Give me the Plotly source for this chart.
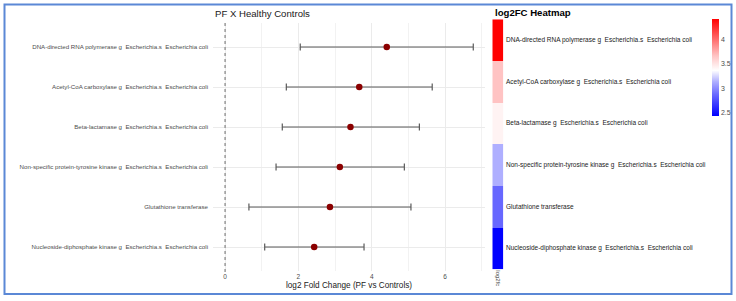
import plotly.graph_objects as go

W, H = 736, 301

labels = [
    "DNA-directed RNA polymerase g  Escherichia.s  Escherichia coli",
    "Acetyl-CoA carboxylase g  Escherichia.s  Escherichia coli",
    "Beta-lactamase g  Escherichia.s  Escherichia coli",
    "Non-specific protein-tyrosine kinase g  Escherichia.s  Escherichia coli",
    "Glutathione transferase",
    "Nucleoside-diphosphate kinase g  Escherichia.s  Escherichia coli",
]
log2fc = [4.41, 3.66, 3.42, 3.13, 2.86, 2.43]
ci_low = [2.05, 1.67, 1.56, 1.39, 0.65, 1.08]
ci_high = [6.77, 5.65, 5.30, 4.89, 5.07, 3.79]
x_ticks = [0, 2, 4, 6]
cbar_ticks = [2.5, 3, 3.5, 4]

FONT = "Liberation Sans, Arial, sans-serif"

def px_x(p):
    return p / W

def px_y(p):
    return 1 - p / H

fig = go.Figure()

# forest plot
fig.add_trace(go.Scatter(
    x=log2fc, y=labels, mode="markers",
    marker=dict(color="#8B0000", size=6.5),
    error_x=dict(type="data", symmetric=False,
                 array=[h - v for h, v in zip(ci_high, log2fc)],
                 arrayminus=[v - l for v, l in zip(log2fc, ci_low)],
                 color="#5a5a5a", thickness=1.2, width=3.5),
    xaxis="x", yaxis="y", showlegend=False, hoverinfo="skip",
))

# heatmap
fig.add_trace(go.Heatmap(
    x=["log2fc"], y=labels, z=[[v] for v in log2fc],
    xaxis="x2", yaxis="y2",
    zmin=min(log2fc), zmax=max(log2fc),
    colorscale=[[0.0, "#0000FF"], [0.22, "#6868FF"], [0.355, "#B0B0FF"],
                [0.47, "#FFFFFF"], [0.62, "#FFC4C4"], [1.0, "#FF0000"]],
    colorbar=dict(
        x=px_x(712), xanchor="left", y=px_y(19), yanchor="top",
        len=97, lenmode="pixels", thickness=6.5, thicknessmode="pixels",
        xpad=0, ypad=0, outlinewidth=0,
        tickvals=cbar_ticks, ticktext=[str(t) for t in cbar_ticks],
        tickfont=dict(size=7, color="#4d4d4d", family=FONT), ticks="",
    ),
    hoverinfo="skip",
))

fig.update_layout(
    width=W, height=H,
    margin=dict(l=0, r=0, t=0, b=0, pad=0),
    paper_bgcolor="white", plot_bgcolor="white",
    font=dict(family=FONT),
    xaxis=dict(
        domain=[px_x(213), px_x(485)], range=[-0.33, 7.09],
        tickvals=x_ticks, ticktext=[str(t) for t in x_ticks],
        tickfont=dict(size=6.5, color="#4d4d4d"),
        showgrid=True, gridcolor="#ebebeb", gridwidth=0.8,
        minor=dict(dtick=1, showgrid=True, gridcolor="#f2f2f2", gridwidth=0.6),
        zeroline=False, showline=False, ticks="",
        title=dict(text="log2 Fold Change (PF vs Controls)",
                   font=dict(size=8.2, color="#1a1a1a"), standoff=3),
        anchor="y",
    ),
    yaxis=dict(
        domain=[px_y(271), px_y(23)], type="category",
        categoryorder="array", categoryarray=labels[::-1],
        range=[-0.6, 5.6],
        tickfont=dict(size=6.15, color="#4d4d4d"),
        showgrid=True, gridcolor="#ebebeb", gridwidth=0.8,
        zeroline=False, showline=False, ticks="", ticklabelstandoff=4,
        anchor="x",
    ),
    xaxis2=dict(
        domain=[px_x(492.3), px_x(503.3)], anchor="y2",
        tickangle=90, tickfont=dict(size=6, color="#4d4d4d"),
        showgrid=False, zeroline=False, showline=False, ticks="",
    ),
    yaxis2=dict(
        domain=[px_y(269.3), px_y(19.3)], anchor="x2", type="category",
        categoryorder="array", categoryarray=labels[::-1],
        range=[-0.5, 5.5], showticklabels=False,
        showgrid=False, zeroline=False, showline=False, ticks="",
    ),
)

# dotted reference line at zero
fig.add_shape(type="line", xref="x", yref="paper", x0=0, x1=0,
              y0=px_y(272), y1=px_y(22),
              line=dict(color="#9a9a9a", width=1.5, dash="dot"))

# heatmap row labels
for lab in labels:
    fig.add_annotation(x=px_x(504), xref="paper", y=lab, yref="y2",
                       text=lab, showarrow=False, xanchor="left",
                       font=dict(size=6.5, color="#1a1a1a"))

# titles
fig.add_annotation(x=px_x(212.5), y=px_y(14), xref="paper", yref="paper",
                   text="PF X Healthy Controls", showarrow=False,
                   xanchor="left", yanchor="middle",
                   font=dict(size=9.6, color="#1a1a1a"))
fig.add_annotation(x=px_x(492.5), y=px_y(12), xref="paper", yref="paper",
                   text="<b>log2FC Heatmap</b>", showarrow=False,
                   xanchor="left", yanchor="middle",
                   font=dict(size=9.6, color="#000000"))

# outer frame
fig.add_shape(type="rect", xref="paper", yref="paper",
              x0=px_x(4.5), x1=px_x(731.5), y0=px_y(294), y1=px_y(4.5),
              line=dict(color="#5b88d6", width=2))

fig.write_html("out.html")
